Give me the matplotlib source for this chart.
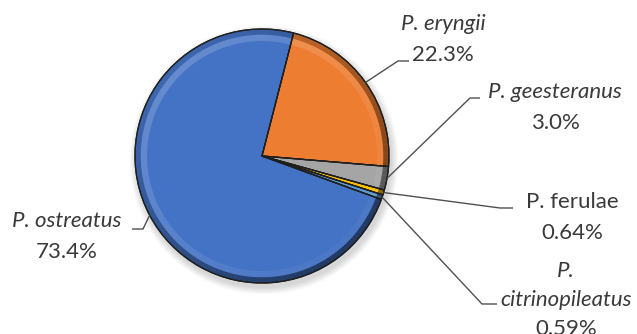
import numpy as np
import matplotlib.pyplot as plt
from matplotlib.patches import Wedge, Circle

# share of each Pleurotus species
species = ['P. ostreatus', 'P. eryngii', 'P. geesteranus', 'P. ferulae', 'P. citrinopileatus']
shares = [73.4, 22.3, 3.0, 0.64, 0.59]
pct_text = ['73.4%', '22.3%', '3.0%', '0.64%', '0.59%']
name_lines = [['P. ostreatus'], ['P. eryngii'], ['P. geesteranus'], ['P. ferulae'], ['P.', 'citrinopileatus']]
italic = [True, True, True, False, True]
colors = ['#4472C4', '#ED7D31', '#A5A5A5', '#FFC000', '#5B9BD5']

W, H = 637, 334
CX, CY, R = 262, 156, 127          # pie centre / radius in pixels (y from top)
TXT = '#3a3a3a'


def py(y):
    # pixel row -> data y (axes run bottom-up)
    return H - y


fig = plt.figure(figsize=(W / 100, H / 100), dpi=100)
ax = fig.add_axes([0, 0, 1, 1])

# soft drop shadow
for k in range(8):
    ax.add_patch(Circle((CX + 2, py(CY) - 4), R + 1 + k * 0.9, color='black',
                        alpha=0.02, lw=0, zorder=0))

wedges, _ = ax.pie(shares, colors=colors, startangle=-20, counterclock=False,
                   center=(CX, py(CY)), radius=R,
                   wedgeprops=dict(edgecolor='#2a2a2a', linewidth=0.9), frame=True)
for w in wedges:
    w.set_zorder(2)

# bevel on the rim: dark toward lower right, lighter toward upper left
light = np.deg2rad(135)
for w, c in zip(wedges, colors):
    t1, t2 = sorted((w.theta1, w.theta2))
    steps = max(2, int((t2 - t1) / 2))
    edges = np.linspace(t1, t2, steps + 1)
    for a, b in zip(edges[:-1], edges[1:]):
        m = np.deg2rad((a + b) / 2)
        f = (1 + np.cos(m - light)) / 2
        ax.add_patch(Wedge((CX, py(CY)), R * 0.955, a, b, width=R * 0.05,
                           color='white', alpha=0.04 + 0.14 * f, lw=0, zorder=3))
        ax.add_patch(Wedge((CX, py(CY)), R, a, b, width=R * 0.045,
                           color='black', alpha=0.10 + 0.4 * (1 - f), lw=0, zorder=3))
    ax.add_patch(Wedge((CX, py(CY)), R, t1, t2, fill=False,
                       edgecolor='#1f1f1f', lw=0.9, zorder=4))

# labels with leader lines
label_pos = [(67, 221), (443, 24), (555, 92), (572, 202), (566, 271)]
elbows = [((143, 229), (132, 229)), ((398, 61), (409, 61)), ((470, 98), (480, 98)),
          ((500, 208), (513, 208)), ((482, 304), (497, 304))]
gap = 31

for w, names, pct, it, (lx, ly), (e1, e2) in zip(wedges, name_lines, pct_text,
                                                  italic, label_pos, elbows):
    mid = np.deg2rad((w.theta1 + w.theta2) / 2)
    sx = CX + R * np.cos(mid)
    sy = py(CY) + R * np.sin(mid)
    ax.plot([sx, e1[0], e2[0]], [sy, py(e1[1]), py(e2[1])], color='#505050',
            lw=1.0, zorder=5, solid_capstyle='butt')
    lines = names + [pct]
    step = gap if len(lines) < 3 else 29
    for i, s in enumerate(lines):
        style = 'italic' if (it and s != pct) else 'normal'
        ax.text(lx, py(ly + i * step), s, ha='center', va='center', fontsize=16,
                family='Lato', style=style, color=TXT, zorder=6)

ax.set_xlim(0, W)
ax.set_ylim(0, H)
ax.set_aspect('auto')
ax.axis('off')

fig.savefig('out.png', dpi=100)
